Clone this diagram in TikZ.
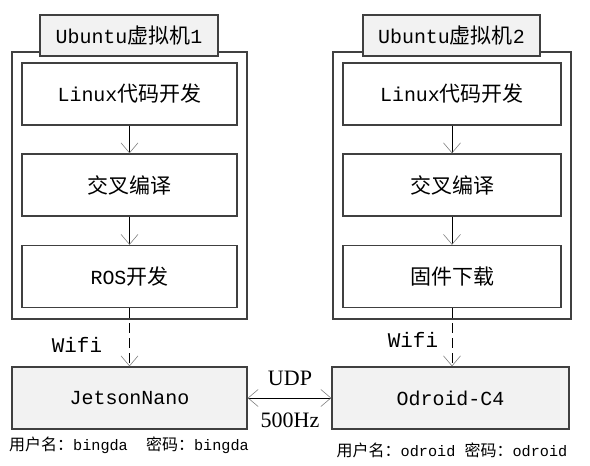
\documentclass[tikz,border=0pt]{standalone}
\usepackage{fontspec}
\setmainfont{Liberation Mono}[Scale=0.95]
\newfontfamily\cjk{Noto Sans CJK SC}
\newfontfamily\serifl{Liberation Serif}
\usetikzlibrary{arrows.meta}
\definecolor{boxline}{HTML}{404040}
\definecolor{boxfill}{HTML}{F2F2F2}
\tikzset{
  x=1pt, y=-1pt,
  outerbox/.style={draw=boxline, line width=1.3pt, minimum width=#1, minimum height=267pt, inner sep=0pt},
  labbox/.style={draw=boxline, line width=1.3pt, fill=boxfill, minimum width=#1, minimum height=41pt, inner sep=0pt, font=\fontsize{21}{24}\selectfont},
  stepbox/.style={draw=boxline, line width=1.3pt, fill=white, minimum width=#1, minimum height=62pt, inner sep=0pt, font=\fontsize{21}{24}\selectfont},
  devbox/.style={draw=boxline, line width=1.3pt, fill=boxfill, minimum width=#1, minimum height=62pt, inner sep=0pt, font=\fontsize{21}{24}\selectfont},
  note/.style={inner sep=0pt, font=\fontsize{16}{18}\selectfont},
  lbl/.style={inner sep=0pt, font=\fontsize{22}{24}\selectfont},
  barb/.tip={Straight Barb[length=10pt, width=17pt, line width=0.6pt, color=gray]},
  conn/.style={draw=black, line width=0.8pt, -barb},
  wireless/.style={dash pattern=on 10pt off 5pt},
}
\begin{document}
\begin{tikzpicture}
\useasboundingbox (0,0) rectangle (590,466);
% left column
\node[outerbox=235pt] (out1) at (129.5,185.5) {};
\node[labbox=178pt] (lab1) at (129,35.5) {Ubuntu{\cjk 虚拟机}1};
\node[stepbox=215pt] (a1) at (129.5,94) {Linux{\cjk 代码开发}};
\node[stepbox=215pt] (b1) at (129.5,185) {\cjk 交叉编译};
\node[stepbox=215pt] (c1) at (129.5,276.5) {ROS{\cjk 开发}};
\node[devbox=235pt] (jet) at (129.5,398) {JetsonNano};
\node[note] (u1) at (129,445) {{\cjk 用户名：}bingda\ \ {\cjk 密码：}bingda};
\node[lbl] (w1) at (77,345) {Wifi};
% right column
\node[outerbox=238pt] (out2) at (452,185.5) {};
\node[labbox=177pt] (lab2) at (451.5,35.5) {Ubuntu{\cjk 虚拟机}2};
\node[stepbox=218pt] (a2) at (452,94) {Linux{\cjk 代码开发}};
\node[stepbox=218pt] (b2) at (452,185) {\cjk 交叉编译};
\node[stepbox=218pt] (c2) at (452,276.5) {\cjk 固件下载};
\node[devbox=237pt] (odr) at (450.5,398) {Odroid-C4};
\node[note] (u2) at (452,450) {{\cjk 用户名：}odroid {\cjk 密码：}odroid};
\node[lbl] (w2) at (413,340) {Wifi};
% link labels
\node[lbl, font=\serifl\fontsize{22}{24}\selectfont] (udp) at (290,378) {UDP};
\node[lbl, font=\serifl\fontsize{22}{24}\selectfont] (hz) at (290,420) {500Hz};
% connectors
\draw[conn] (a1.south) -- (b1.north);
\draw[conn] (b1.south) -- (c1.north);
\draw[conn, wireless] (c1.south) -- (jet.north);
\draw[conn] (a2.south) -- (b2.north);
\draw[conn] (b2.south) -- (c2.north);
\draw[conn, wireless] (c2.south) -- (c2.south |- odr.north);
\draw[conn, barb-barb] (jet.east) -- (odr.west);
\end{tikzpicture}
\end{document}
